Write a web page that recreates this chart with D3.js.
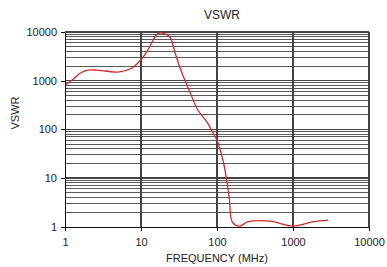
<!DOCTYPE html>
<html lang="en">
<head>
<meta charset="utf-8">
<title>VSWR</title>
<script src="https://d3js.org/d3.v7.min.js"></script>
<style>
  html, body { margin: 0; padding: 0; background: #fff; }
  text { font-family: "Liberation Sans", Arial, sans-serif; fill: #222; }
  .grid line { stroke: #5a5a5a; stroke-width: 1; shape-rendering: crispEdges; }
  .grid line.major { stroke: #444; stroke-width: 1.5; }
  .axis path, .axis line { stroke: #111; shape-rendering: crispEdges; }
  path.curve { fill: none; stroke: #d42a2a; stroke-width: 1.3px; }
</style>
</head>
<body>
<script>
var freq  = [1, 1.3, 1.6, 2, 2.6, 3.4, 5, 7.6, 10, 12, 14, 16, 17.8, 20, 24, 28, 32.6, 44, 56, 74, 88.6, 100, 120, 134, 146, 152, 162, 200, 257, 500, 1000, 1850, 2900];
var vswr  = [810, 1100, 1440, 1650, 1650, 1580, 1500, 1820, 2700, 4000, 6200, 8800, 9600, 9300, 7900, 3800, 1820, 585, 250, 141, 84, 60, 23, 9, 3.5, 1.58, 1.19, 1.03, 1.27, 1.3, 1.03, 1.27, 1.37];
var xTicks = [1, 10, 100, 1000, 10000];
var yTicks = [1, 10, 100, 1000, 10000];

var W = 387, H = 267;
var mLeft = 65, mRight = 369, mTop = 32, mBottom = 226.7;

var svg = d3.select("body").append("svg").attr("width", W).attr("height", H);

var x = d3.scaleLog().domain([1, 10000]).range([mLeft, mRight]);
var y = d3.scaleLog().domain([1, 10000]).range([mBottom, mTop]);

// horizontal grid at every 1..9 of each decade
var yGrid = [];
for (var d = 1; d < 10000; d *= 10) {
  for (var m = 1; m <= 10; m++) yGrid.push(d * m);
}
yGrid = Array.from(new Set(yGrid)).filter(function(v){ return v > 1; });

var g = svg.append("g").attr("class", "grid");
g.selectAll("line.h").data(yGrid).enter().append("line")
  .attr("class", function(v){ return yTicks.indexOf(v) >= 0 ? "h major" : "h"; })
  .attr("x1", mLeft).attr("x2", mRight)
  .attr("y1", function(v){ return y(v); }).attr("y2", function(v){ return y(v); });
g.selectAll("line.v").data(xTicks.slice(1)).enter().append("line")
  .attr("class", "v major")
  .attr("x1", function(v){ return x(v); }).attr("x2", function(v){ return x(v); })
  .attr("y1", mTop).attr("y2", mBottom);

var line = d3.line()
  .x(function(d){ return x(d[0]); })
  .y(function(d){ return y(d[1]); })
  .curve(d3.curveCatmullRom.alpha(0.5));

svg.append("path").attr("class", "curve")
  .attr("d", line(freq.map(function(f, i){ return [f, vswr[i]]; })));

var xAxis = d3.axisBottom(x).tickValues(xTicks).tickFormat(d3.format("d")).tickSizeInner(4).tickSizeOuter(0).tickPadding(8);
var yAxis = d3.axisLeft(y).tickValues(yTicks).tickFormat(d3.format("d")).tickSizeInner(4).tickSizeOuter(0).tickPadding(4);

svg.append("g").attr("class", "axis x")
  .attr("transform", "translate(0," + mBottom + ")")
  .call(xAxis)
  .selectAll("text").style("font-size", "11px");
svg.append("g").attr("class", "axis y")
  .attr("transform", "translate(" + mLeft + ",0)")
  .call(yAxis)
  .selectAll("text").style("font-size", "11px");

svg.append("text").attr("x", 222).attr("y", 19).attr("text-anchor", "middle")
  .style("font-size", "12px").text("VSWR");
svg.append("text").attr("x", 217).attr("y", 262).attr("text-anchor", "middle")
  .style("font-size", "11px").text("FREQUENCY (MHz)");
svg.append("text").attr("transform", "translate(19,113) rotate(-90)").attr("text-anchor", "middle")
  .style("font-size", "11px").text("VSWR");
</script>
</body>
</html>
